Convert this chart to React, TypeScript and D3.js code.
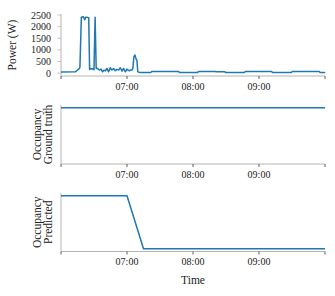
import React, { useEffect, useRef } from 'react';
import * as d3 from 'd3';

// minutes after 06:00 and measured power (W)
const powerMinutes = [
  0, 13, 14.5, 16.5, 17.2, 18.5, 19.5, 20.5, 21.5, 22.5, 24.5, 25.2, 26, 27, 28, 29, 30, 31, 32,
  33.3, 35, 36.5, 37.8, 39, 40.3, 41.8, 43.3, 44.8, 46.3, 47.8, 49.4, 50.9, 52.4, 53.9, 55.5,
  56.9, 58.5, 60, 61, 62.1, 63.3, 64.5, 65.3, 66.3, 67.3, 68.3, 69, 69.8, 71, 81.8, 82.5, 106.9,
  107.5, 124.2, 125, 140.3, 141, 149, 149.6, 166.9, 167.5, 191.5, 192.1, 209.6, 210.2, 234.8,
  235.4, 239.4, 240,
];
const powerWatts = [
  50, 55, 110, 190, 240, 2400, 2430, 2420, 2300, 2410, 2390, 2380, 160, 200, 170, 190, 150, 2400, 200,
  200, 130, 170, 56, 120, 100, 200, 56, 230, 130, 200, 100, 160, 130, 230, 86,
  200, 56, 170, 130, 100, 130, 130, 200, 720, 776, 600, 560, 60, 30, 30, 73, 73,
  30, 30, 73, 73, 55, 55, 30, 30, 73, 73, 30, 30, 73, 73,
  30, 30, 5,
];

const occMinutes = [0, 15, 30, 45, 60, 75, 90, 105, 120, 135, 150, 165, 180, 195, 210, 225, 240];
const occGroundTruth = [1, 1, 1, 1, 1, 1, 1, 1, 1, 1, 1, 1, 1, 1, 1, 1, 1];
const occPredicted = [1, 1, 1, 1, 1, 0, 0, 0, 0, 0, 0, 0, 0, 0, 0, 0, 0];

const powerTicks = [0, 500, 1000, 1500, 2000, 2500];
const labelledHours = ['07:00', '08:00', '09:00'];

const W = 335;
const H = 296;
const FONT = '"Liberation Serif", "Times New Roman", serif';
const BLUE = '#1f77b4';
const SPINE = '#b5b5b5';

const t0 = new Date(2020, 0, 1, 6, 0);
const toDate = (m: number) => new Date(t0.getTime() + m * 60000);

export default function App() {
  const ref = useRef<SVGSVGElement>(null);

  useEffect(() => {
    const svg = d3.select(ref.current);
    svg.selectAll('*').remove();

    const left = 61;
    const right = 325;
    const x = d3.scaleTime().domain([toDate(0), toDate(240)]).range([left, right]);
    const fmt = d3.timeFormat('%H:%M');

    const panels = [
      { top: 14, bottom: 76, domain: [-125, 2545], xs: powerMinutes, ys: powerWatts, label: ['Power (W)'], yTicks: powerTicks },
      { top: 105, bottom: 164, domain: [-0.05, 1.05], xs: occMinutes, ys: occGroundTruth, label: ['Occupancy', 'Ground truth'], yTicks: [] as number[] },
      { top: 193, bottom: 251.5, domain: [-0.05, 1.05], xs: occMinutes, ys: occPredicted, label: ['Occupancy', 'Predicted'], yTicks: [] as number[] },
    ];

    panels.forEach((p, i) => {
      const y = d3.scaleLinear().domain(p.domain).range([p.bottom, p.top]);
      const g = svg.append('g');

      // spines
      g.append('line').attr('x1', left).attr('x2', left).attr('y1', p.top).attr('y2', p.bottom)
        .attr('stroke', SPINE).attr('stroke-width', 1);
      g.append('line').attr('x1', left).attr('x2', right).attr('y1', p.bottom).attr('y2', p.bottom)
        .attr('stroke', SPINE).attr('stroke-width', 1);

      // x ticks
      const hours = x.ticks(d3.timeHour.every(1)!);
      g.selectAll('line.xt').data(hours).enter().append('line')
        .attr('x1', d => x(d)).attr('x2', d => x(d))
        .attr('y1', p.bottom).attr('y2', p.bottom + 3)
        .attr('stroke', '#333').attr('stroke-width', 0.8);
      g.selectAll('text.xl').data(hours.filter(d => labelledHours.includes(fmt(d)))).enter().append('text')
        .attr('x', d => x(d)).attr('y', p.bottom + 13.5)
        .attr('text-anchor', 'middle').attr('font-family', FONT).attr('font-size', 10).attr('fill', '#222')
        .text(d => fmt(d));

      // y ticks
      g.selectAll('line.yt').data(p.yTicks).enter().append('line')
        .attr('x1', left - 3.5).attr('x2', left)
        .attr('y1', d => y(d)).attr('y2', d => y(d))
        .attr('stroke', SPINE).attr('stroke-width', 0.8);
      g.selectAll('text.yl').data(p.yTicks).enter().append('text')
        .attr('x', left - 10).attr('y', d => y(d) + 3.5)
        .attr('text-anchor', 'end').attr('font-family', FONT).attr('font-size', 10).attr('fill', '#222')
        .text(d => String(d));

      // series
      const pts = p.xs.map((m, k) => [m, p.ys[k]] as [number, number]);
      const line = d3.line<[number, number]>().x(d => x(toDate(d[0]))).y(d => y(d[1]));
      g.append('path').attr('d', line(pts)).attr('fill', 'none')
        .attr('stroke', BLUE).attr('stroke-width', 1.5).attr('stroke-linejoin', 'round');

      // y label
      const cy = (p.top + p.bottom) / 2;
      const xs = p.label.length === 1 ? [16] : [41, 52];
      p.label.forEach((txt, k) => {
        g.append('text')
          .attr('transform', `translate(${xs[k]},${cy}) rotate(-90)`)
          .attr('text-anchor', 'middle').attr('font-family', FONT).attr('font-size', 11.5).attr('fill', '#222')
          .text(txt);
      });

      if (i === panels.length - 1) {
        g.append('text').attr('x', (left + right) / 2).attr('y', 284)
          .attr('text-anchor', 'middle').attr('font-family', FONT).attr('font-size', 11.5).attr('fill', '#222')
          .text('Time');
      }
    });
  }, []);

  return (
    <svg ref={ref} width={W} height={H} style={{ position: 'absolute', left: 0, top: 0, background: '#fff' }} />
  );
}
